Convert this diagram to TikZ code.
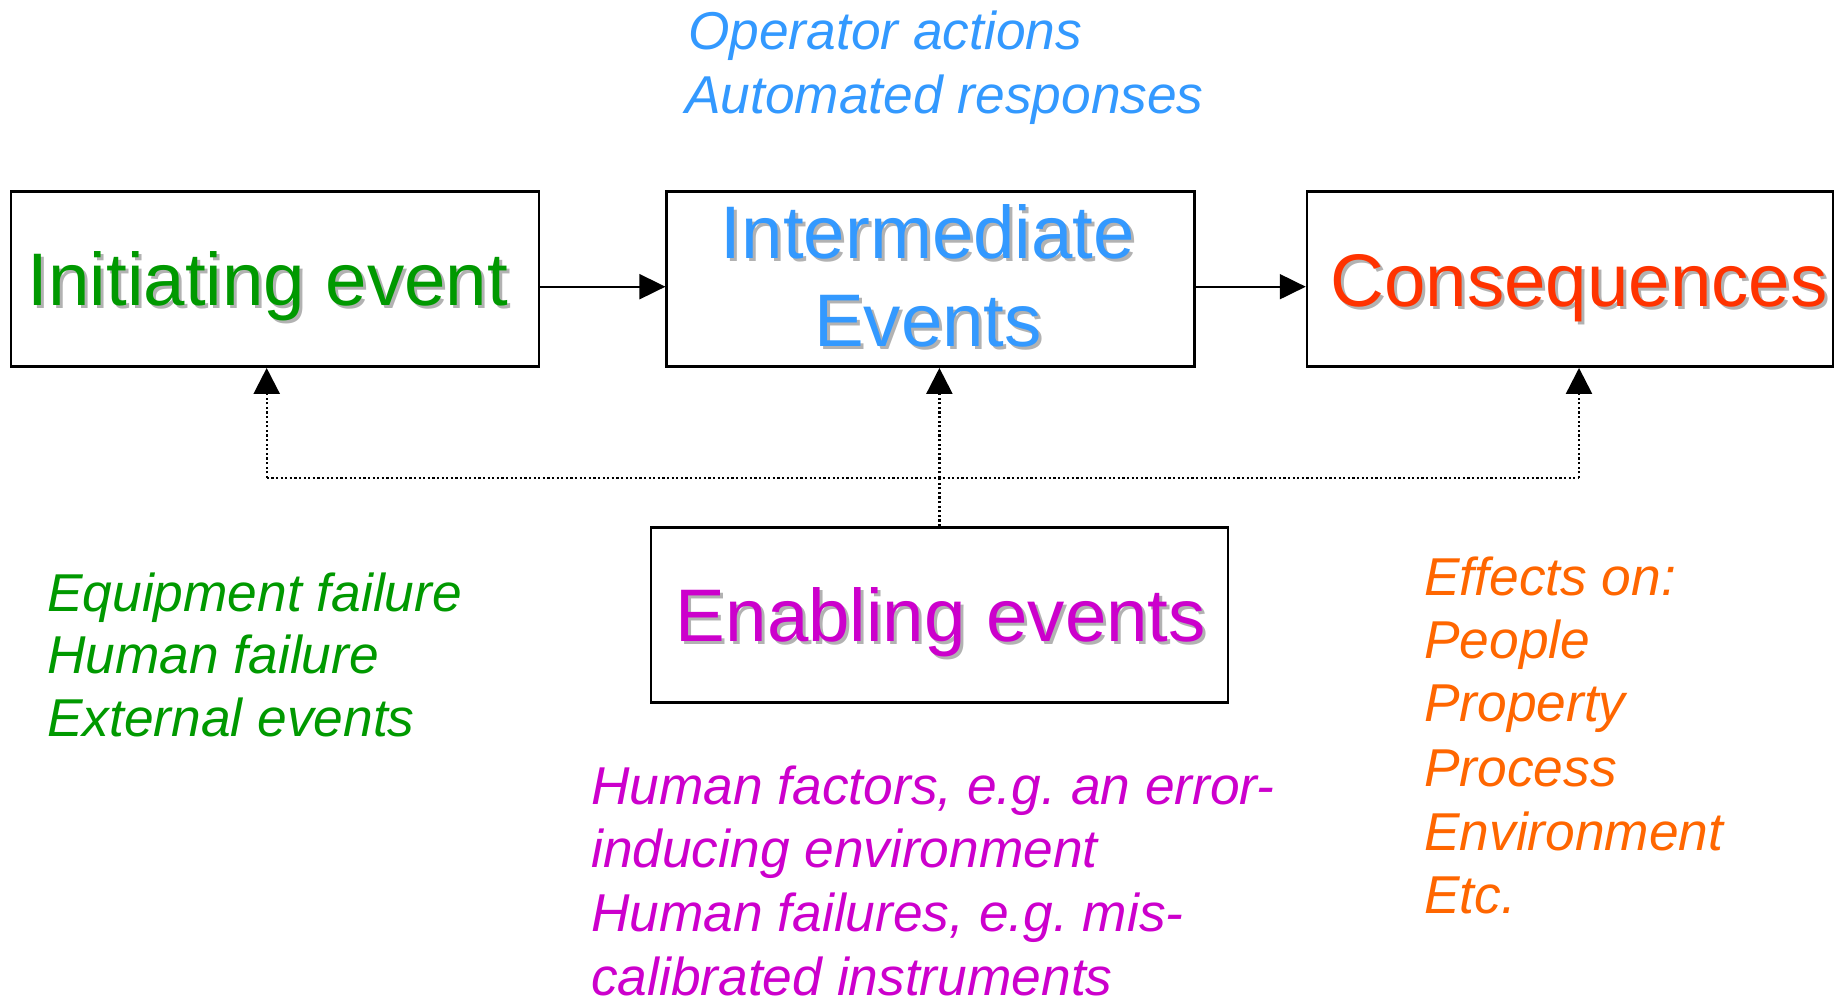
\documentclass[tikz,border=0pt]{standalone}
\usepackage{fontspec}
\setmainfont{Liberation Sans}
\usetikzlibrary{arrows.meta}
\frenchspacing

\definecolor{initgreen}{RGB}{0,153,0}
\definecolor{interblue}{RGB}{51,153,255}
\definecolor{conred}{RGB}{255,51,0}
\definecolor{enabmag}{RGB}{204,0,204}
\definecolor{efforange}{RGB}{255,102,0}
\definecolor{shadegray}{RGB}{178,178,178}

% text with a soft grey drop shadow behind it
\newcommand\shadowed[2]{\leavevmode\rlap{\kern3pt\raisebox{-3pt}{\textcolor{shadegray}{#2}}}\textcolor{#1}{#2}}

\begin{document}
\begin{tikzpicture}[x=1pt,y=-1pt,
  evbox/.style={draw=black, line width=2.5pt, minimum height=175pt, inner sep=0pt},
  title/.style={anchor=base, inner sep=0pt, font=\fontsize{74.5}{82}\selectfont},
  note/.style={anchor=base west, inner sep=0pt, font=\itshape\fontsize{53.3}{63}\selectfont},
  flow/.style={line width=2pt, -{Triangle[length=26pt,width=25pt]}},
  dotline/.style={line width=2.4pt, dash pattern=on 2.2pt off 2.4pt},
  dottip/.style={dotline, -{Triangle[length=26pt,width=26pt]}}]

\useasboundingbox (0,0) rectangle (1835,1003);

% the four event boxes
\node[evbox, minimum width=528pt] (b1) at (275,279.2) {};
\node[evbox, minimum width=528pt] (b2) at (930.7,279.2) {};
\node[evbox, minimum width=526pt] (b3) at (1570,279.2) {};
\node[evbox, minimum width=577pt] (b4) at (939.4,615) {};

% box titles
\node[title] (t1) at (268,305) {\shadowed{initgreen}{Initiating event}};
\node[title] (t2a) at (928,258) {\shadowed{interblue}{Intermediate}};
\node[title] (t2b) at (928,346.7) {\shadowed{interblue}{Events}};
\node[title] (t3) at (1579,306) {\shadowed{conred}{Consequences}};
\node[title] (t4) at (941,641.7) {\shadowed{enabmag}{Enabling events}};

% main sequence
\coordinate (lane) at (0,286.7);
\draw[flow] (b1.east |- lane) -- (b2.west |- lane);
\draw[flow] (b2.east |- lane) -- (b3.west |- lane);

% enabling events feed every stage
\coordinate (bus) at (0,478);
\coordinate (p1) at (266.7,0);
\coordinate (p3) at (1579,0);
\draw[dotline] (b4.north) -- (b4.north |- bus);
\draw[dottip] (b4.north |- bus) -- (b4.north |- b2.south);
\draw[dotline] (p1 |- bus) -- (p3 |- bus);
\draw[dottip] (p1 |- bus) -- (p1 |- b1.south);
\draw[dottip] (p3 |- bus) -- (p3 |- b3.south);

% annotations
\node[note, text=interblue] (o1) at (688,50) {Operator actions};
\node[note, text=interblue] (o2) at (685,113.3) {Automated responses};

\node[note, text=initgreen] (g1) at (47,611.7) {Equipment failure};
\node[note, text=initgreen] (g2) at (47,673.5) {Human failure};
\node[note, text=initgreen] (g3) at (47,736.7) {External events};

\node[note, text=enabmag] (m1) at (591,804) {Human factors, e.g. an error-};
\node[note, text=enabmag] (m2) at (591,867.5) {inducing environment};
\node[note, text=enabmag] (m3) at (591,931.3) {Human failures, e.g. mis-};
\node[note, text=enabmag] (m4) at (591,995) {calibrated instruments};

\node[note, text=efforange] (f1) at (1424,595) {Effects on:};
\node[note, text=efforange] (f2) at (1424,658) {People};
\node[note, text=efforange] (f3) at (1424,721.7) {Property};
\node[note, text=efforange] (f4) at (1424,786.7) {Process};
\node[note, text=efforange] (f5) at (1424,850) {Environment};
\node[note, text=efforange] (f6) at (1424,913) {Etc.};
\end{tikzpicture}
\end{document}
